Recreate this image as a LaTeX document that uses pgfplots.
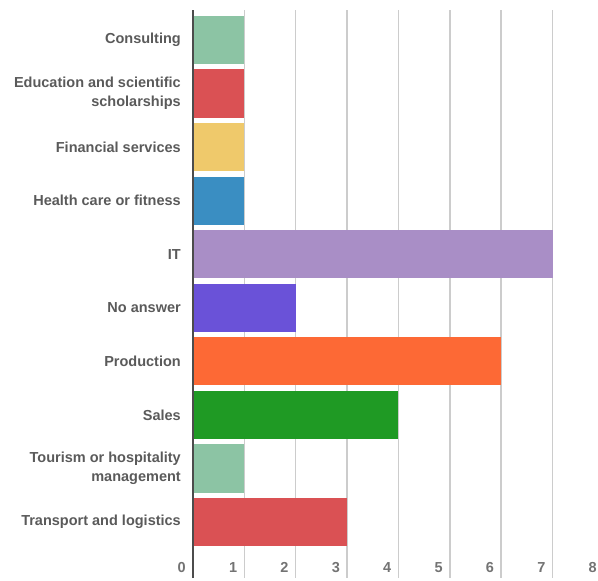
\documentclass[border=0pt]{standalone}
\usepackage{pgfplots}
\pgfplotsset{compat=1.18}
\usepackage{fontspec}
\setmainfont{Liberation Sans}
\definecolor{cGreen}{HTML}{8CC4A4}
\definecolor{cRed}{HTML}{DA5154}
\definecolor{cYellow}{HTML}{EFC96B}
\definecolor{cBlue}{HTML}{3A8EC2}
\definecolor{cPurple}{HTML}{A98EC6}
\definecolor{cViolet}{HTML}{6A52D8}
\definecolor{cOrange}{HTML}{FD6935}
\definecolor{cDGreen}{HTML}{1F9A24}
\definecolor{lblgray}{HTML}{5A5A5A}
\begin{document}
\begin{tikzpicture}
\begin{axis}[
  scale only axis,
  width=411bp, height=568bp,
  xmin=0, xmax=8,
  ymin=-0.56, ymax=10.045,
  y dir=reverse,
  xbar, bar width=0.9, bar shift=0pt,
  axis line style={draw=none},
  major tick length=0pt,
  xtick={0,1,...,8},
  ytick={0,1,...,9},
  yticklabels={Consulting,{Education and scientific\\scholarships},Financial services,Health care or fitness,IT,No answer,Production,Sales,{Tourism or hospitality\\management},Transport and logistics},
  yticklabel style={align=right, inner sep=0pt, xshift=-12bp, font=\bfseries\fontsize{14.5bp}{19bp}\selectfont, text=lblgray},
  xticklabel style={anchor=south east, inner sep=0pt, xshift=-7bp, yshift=5bp, font=\bfseries\fontsize{14.5bp}{17bp}\selectfont, text=black!55},
  /pgf/number format/assume math mode=true,
  xmajorgrids,
  major grid style={draw=black!20, line width=1.5bp},
  clip=false,
]
\addplot[draw=none, fill=cGreen] coordinates {(1,0)};
\addplot[draw=none, fill=cRed] coordinates {(1,1)};
\addplot[draw=none, fill=cYellow] coordinates {(1,2)};
\addplot[draw=none, fill=cBlue] coordinates {(1,3)};
\addplot[draw=none, fill=cPurple] coordinates {(7,4)};
\addplot[draw=none, fill=cViolet] coordinates {(2,5)};
\addplot[draw=none, fill=cOrange] coordinates {(6,6)};
\addplot[draw=none, fill=cDGreen] coordinates {(4,7)};
\addplot[draw=none, fill=cGreen] coordinates {(1,8)};
\addplot[draw=none, fill=cRed] coordinates {(3,9)};
\draw[black!70, line width=2bp] (rel axis cs:0,0) -- (rel axis cs:0,1);
\end{axis}
\pgfresetboundingbox
\path[use as bounding box] (-193bp,-3bp) rectangle (405bp,578bp);
\end{tikzpicture}
\end{document}
